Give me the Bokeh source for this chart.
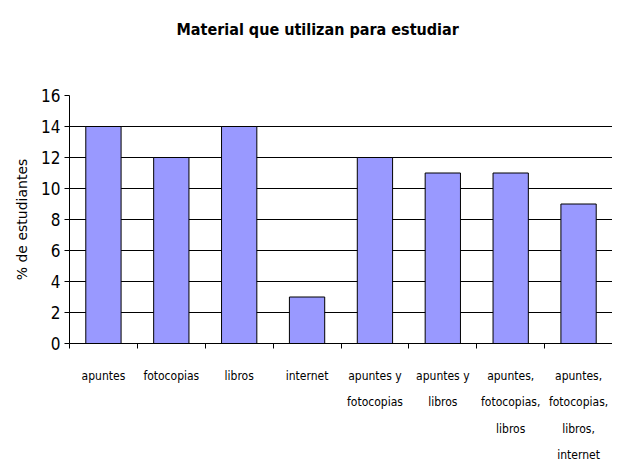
from bokeh.plotting import figure
from bokeh.models import Range1d, FixedTicker, Title
from bokeh.embed import file_html
from bokeh.resources import INLINE

categories = ["apuntes", "fotocopias", "libros", "internet",
              "apuntes y\nfotocopias", "apuntes y\nlibros",
              "apuntes,\nfotocopias,\nlibros", "apuntes,\nfotocopias,\nlibros,\ninternet"]
values = [14, 12, 14, 3, 12, 11, 11, 9]
y_ticks = [0, 2, 4, 6, 8, 10, 12, 14, 16]
title_text = "Material que utilizan para estudiar"

NARROW = "DejaVu Sans Condensed"

n = len(categories)
centers = [i + 0.5 for i in range(n)]
bounds = list(range(n + 1))

p = figure(width=612, height=465, output_backend="svg", toolbar_location=None,
           x_range=Range1d(0, n), y_range=Range1d(0, 16), title=None,
           min_border_left=69, min_border_right=0, min_border_top=95,
           min_border_bottom=121)

spacer = Title(text=" ", text_font_size="1px", standoff=54)
main_title = Title(text=title_text, text_font=NARROW, text_font_size="16px",
                   text_font_style="bold", text_color="black",
                   align="left", offset=107, standoff=0)
p.add_layout(spacer, "above")
p.add_layout(main_title, "above")

p.vbar(x=centers, top=values, width=0.52, bottom=0,
       fill_color="#9999FF", line_color="black", line_width=1)

p.outline_line_color = None
p.background_fill_color = "white"

p.xgrid.grid_line_color = None
p.ygrid.ticker = FixedTicker(ticks=y_ticks)
p.ygrid.grid_line_color = "black"
p.ygrid.level = "underlay"

xa = p.xaxis[0]
xa.ticker = FixedTicker(ticks=centers, minor_ticks=bounds)
xa.major_label_overrides = {c: lab for c, lab in zip(centers, categories)}
xa.major_tick_out = 0
xa.major_tick_in = 0
xa.minor_tick_out = 5
xa.minor_tick_in = 0
xa.minor_tick_line_color = "black"
xa.axis_line_color = "black"
xa.major_label_text_font = NARROW
xa.major_label_text_font_size = "12px"
xa.major_label_text_line_height = 1.9
xa.major_label_standoff = 20
xa.major_label_text_color = "black"

ya = p.yaxis[0]
ya.ticker = FixedTicker(ticks=y_ticks)
ya.major_tick_out = 5
ya.major_tick_in = 0
ya.minor_tick_line_color = None
ya.axis_line_color = "black"
ya.major_label_text_font = NARROW
ya.major_label_text_font_size = "17px"
ya.major_label_text_color = "black"
ya.major_label_standoff = 4
ya.axis_label = "% de estudiantes"
ya.axis_label_text_font = "DejaVu Sans"
ya.axis_label_text_font_size = "14px"
ya.axis_label_text_font_style = "normal"
ya.axis_label_text_color = "black"
ya.axis_label_standoff = 8

open("out.html", "w").write(file_html(p, INLINE))
